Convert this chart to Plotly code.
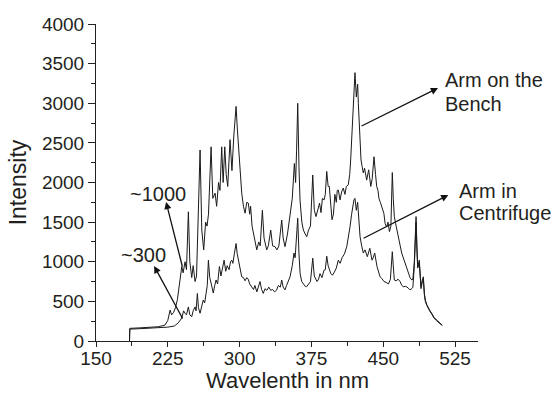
import plotly.graph_objects as go

# ---------------- data ----------------
bench_wl = [185, 185.3, 195, 205, 215, 222, 225, 227.4, 229, 231, 233, 235, 237, 239.6, 241, 243, 244.5,
            246.5, 248, 250, 251.5, 253.5, 255, 256.5, 258.7, 260.5, 262.5, 264.5, 266, 267.5, 270.2, 272,
            274.4, 276, 278, 279.5, 281.3, 282.8, 284.5, 286, 287.6, 290, 292, 294, 296.3, 297.5, 298.7,
            300.5, 302.2, 304, 305.7, 307.5, 309.1, 310.5, 311.5, 313, 314.4, 316, 317.9, 320, 321.5, 323.8,
            325.5, 328.3, 330, 332.5, 334.5, 337, 339, 341, 344, 345.5, 347.4, 350, 352.7, 355, 357.2, 358.5,
            359.5, 360.7, 362, 363.1, 365, 366.6, 368.5, 370.1, 372, 374, 376.4, 378, 379.8, 381.5, 383.5,
            385, 386.5, 388.2, 389.5, 391, 392.5, 393.7, 395, 396.5, 398, 399.5, 401, 402, 403.1, 404.9,
            406.5, 408.3, 410, 411.5, 413.5, 415, 416, 417, 418.1, 419.5, 420.5, 421.9, 423.3, 424, 425,
            426.8, 428, 429.2, 430.5, 431.5, 432.7, 434.8, 436, 437, 438.5, 440.4, 442, 443.2, 444.5, 445.5,
            447, 448.4, 450.7, 452, 453.6, 455, 456.5, 458, 459.5, 460.5, 461.6, 463, 464.1, 465.5, 466.9,
            469.3, 471, 472.8, 474.5, 476.3, 478, 479.8, 481, 482.5, 484.3, 485.2, 486, 487.7, 488.6, 489.5,
            490.7, 491.9, 493, 494, 495.5, 497.1, 498.5, 500.6, 503, 505.8, 508, 511.7]
bench_int = [0, 160, 165, 170, 180, 200, 260, 390, 330, 360, 420, 520, 700, 940, 860, 1000, 900,
             1630, 1000, 800, 950, 750, 820, 1400, 2410, 1400, 1150, 1500, 1450, 1600, 2450, 1800,
             1865, 1700, 2000, 1900, 2450, 2000, 2450, 2100, 1950, 2540, 2150, 2600, 2960, 2700, 2500,
             2150, 1865, 1700, 1613, 1750, 1740, 1600, 1700, 1450, 1360, 1250, 1150, 1250, 1200, 1650,
             1300, 1150, 1200, 1400, 1200, 1190, 1150, 1200, 1527, 1300, 1190, 1350, 1570, 1800, 2240, 2000,
             2400, 3000, 2200, 1780, 1500, 1400, 1350, 1316, 1400, 1450, 2095, 1650, 1570, 1650, 1740,
             1620, 1800, 1780, 1850, 2140, 1950, 1950, 1700, 1530, 1600, 1850, 1750, 1900, 1905, 1780,
             1880, 1930, 1850, 1950, 1970, 2100, 2285, 2550, 2870, 3200, 3386, 3080, 3240, 3000, 2725,
             2285, 2200, 2120, 2180, 2100, 2030, 2160, 2000, 1950, 2050, 2325, 2100, 1950, 1900, 1800,
             1750, 1695, 1610, 1480, 1440, 1500, 1380, 1450, 2125, 1800, 1570, 1480, 1400, 1300, 1250,
             1110, 1050, 980, 920, 855, 800, 770, 780, 1000, 1570, 1200, 940, 1020, 800, 685,
             760, 810, 600, 517, 460, 412, 390, 350, 300, 265, 240, 200]

centr_wl = [185, 185.3, 195, 205, 215, 225, 232, 236, 239.6, 241.5, 243, 244.5, 246.5, 248, 250, 251.5,
            253.5, 254.5, 255.9, 257, 258.7, 260.5, 262, 263.5, 265, 266.2, 267.4, 268.8, 270.2, 272.5, 274,
            275.4, 277, 278.9, 280.5, 282, 283.8, 285.5, 287, 289, 290.5, 291.8, 293, 294.5, 296.3, 297.5,
            298.7, 300.5, 302.2, 304, 305.7, 307.5, 309, 310.5, 312.7, 314.5, 316, 318, 319.5, 321.3, 323,
            324.7, 326.5, 328.5, 330.5, 332.5, 334.5, 336.5, 338.5, 340.5, 342.5, 344, 345.5, 347.4, 349,
            350.5, 352.7, 355, 356.8, 358, 359.5, 360.7, 362, 363.2, 364.9, 366.5, 368.5, 370, 372, 374,
            376.4, 378, 380.9, 382.5, 384, 386, 388.2, 389.5, 391, 392.5, 395.1, 397, 399, 401, 403.1, 405,
            407, 409.5, 411.9, 413.5, 415.3, 417, 418.1, 419.4, 420.5, 421.9, 423.3, 424.2, 425.8, 427.5,
            429.2, 431, 433.4, 436, 438.3, 439.5, 441.1, 443.5, 445, 446.7, 448.5, 450.8, 453, 455.5, 457.5,
            459.5, 460.5, 461.6, 463.5, 465.5, 467.6, 469.5, 471, 473.5, 476, 478, 479.8, 481, 482.5, 484.3,
            485.2, 486, 487.7, 488.6, 489.5, 490.7, 491.9, 493, 494, 495.5, 497.1, 498.5, 500.6, 503, 505.8,
            508, 511.7]
centr_int = [0, 150, 155, 160, 165, 175, 190, 230, 290, 380, 350, 330, 430, 330, 307, 380,
             430, 380, 600, 420, 350, 430, 517, 480, 600, 700, 1020, 800, 730, 605, 700,
             770, 720, 940, 820, 900, 1020, 880, 950, 900, 1000, 1020, 980, 1100, 1230, 1100,
             1020, 900, 810, 800, 760, 800, 780, 720, 685, 650, 700, 620, 680, 750, 650,
             600, 660, 640, 680, 640, 650, 620, 640, 700, 680, 770, 680, 645, 700,
             750, 810, 950, 1110, 1050, 1300, 1550, 1100, 850, 750, 720, 690, 685, 720, 750,
             1045, 820, 750, 780, 850, 800, 895, 900, 1070, 950, 855, 830, 870, 920, 1020, 980,
             1050, 1100, 1190, 1300, 1440, 1600, 1700, 1780, 1800, 1650, 1750, 1550, 1316, 1200,
             1110, 1150, 1064, 1170, 1020, 1050, 1110, 940, 880, 810, 790, 750, 740, 720, 780,
             1127, 950, 770, 760, 780, 750, 700, 685, 690, 670, 645, 660, 680, 950, 1500,
             1150, 920, 980, 780, 660, 740, 780, 580, 500, 450, 400, 380, 340, 290, 255,
             230, 195]

x_ticks = [150, 225, 300, 375, 450, 525]
y_ticks = [0, 500, 1000, 1500, 2000, 2500, 3000, 3500, 4000]

# annotation anchor points (data units): (head, tail)
arrow_bench = ((507.2, 3192), (425.8, 2704))
arrow_centr = ((518.0, 1842), (427.9, 1287))
arrow_1000 = ((223.2, 1754), (240.6, 921))
arrow_300 = ((210.7, 946), (241.3, 265))

FONT = "Liberation Sans, Arial, sans-serif"
TXT = "#231f20"

fig = go.Figure()
fig.add_trace(go.Scatter(x=bench_wl, y=bench_int, mode="lines", name="Arm on the Bench",
                         line=dict(color="#1a1a1a", width=1)))
fig.add_trace(go.Scatter(x=centr_wl, y=centr_int, mode="lines", name="Arm in Centrifuge",
                         line=dict(color="#1a1a1a", width=1)))

ann = []
for (hx, hy), (tx, ty) in [arrow_bench, arrow_centr, arrow_1000, arrow_300]:
    ann.append(dict(x=hx, y=hy, ax=tx, ay=ty, xref="x", yref="y", axref="x", ayref="y",
                    text="", showarrow=True, arrowhead=2, arrowsize=1.1, arrowwidth=1.3,
                    arrowcolor="#111"))

labels = [("Arm on the", 512.4, 3290, "left"), ("Bench", 512.4, 2990, "left"),
          ("Arm in", 527.0, 1890, "left"), ("Centrifuge", 527.0, 1610, "left"),
          ("~1000", 215.1, 1850, "center"), ("~300", 199.2, 1090, "center")]
for t, x, y, xa in labels:
    ann.append(dict(x=x, y=y, xref="x", yref="y", text=t, showarrow=False, xanchor=xa,
                    yanchor="middle", font=dict(family=FONT, size=20, color=TXT)))

# x axis title placed below the tick labels
ann.append(dict(x=0.5, y=-0.167, xref="paper", yref="paper", text="Wavelenth in nm",
                showarrow=False, xanchor="center", yanchor="bottom", borderpad=0,
                font=dict(family=FONT, size=22, color=TXT)))

fig.update_layout(
    width=557, height=394,
    margin=dict(l=96, r=79, t=24, b=53, autoexpand=False),
    paper_bgcolor="white", plot_bgcolor="white",
    showlegend=False,
    annotations=ann,
    xaxis=dict(range=[150, 549], tickvals=x_ticks, ticks="outside", ticklen=5, tickwidth=1,
               tickcolor="#222", showline=True, linecolor="#222", linewidth=1, showgrid=False,
               zeroline=False, tickfont=dict(family=FONT, size=19, color=TXT),
               automargin=False, ticklabelstandoff=-5,
               minor=dict(dtick=37.5, tick0=150, ticks="outside", ticklen=4, tickcolor="#222", showgrid=False)),
    yaxis=dict(range=[0, 4000], tickvals=y_ticks, ticks="outside", ticklen=7, tickwidth=1,
               tickcolor="#222", showline=True, linecolor="#222", linewidth=1, showgrid=False,
               zeroline=False, tickfont=dict(family=FONT, size=19, color=TXT), automargin=False,
               minor=dict(dtick=250, tick0=0, ticks="outside", ticklen=4, tickcolor="#222", showgrid=False),
               title=dict(text="Intensity", font=dict(family=FONT, size=23, color=TXT), standoff=8)),
)

fig.write_html("out.html")
